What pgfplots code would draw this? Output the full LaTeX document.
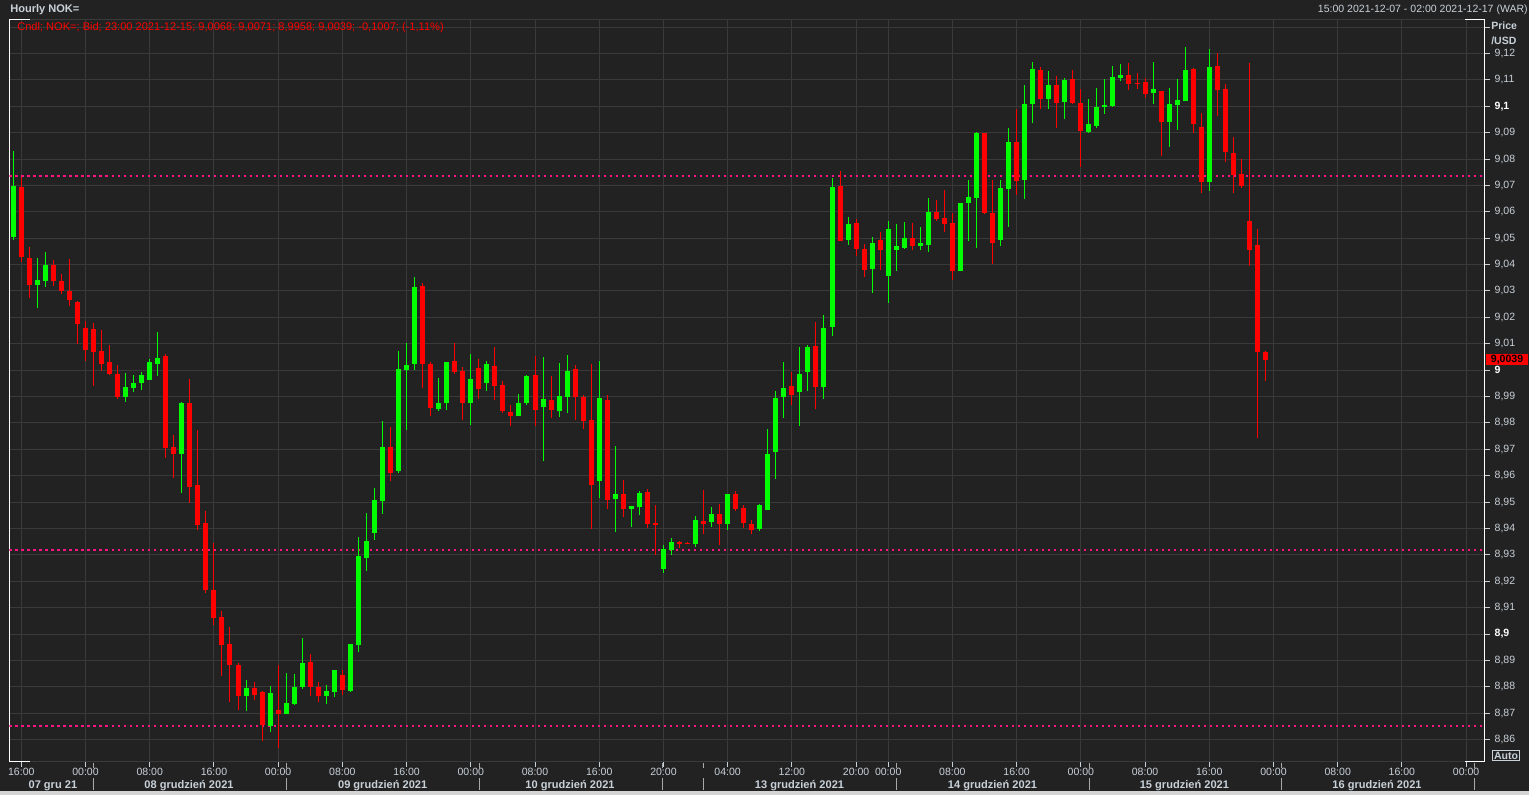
\documentclass[border=0pt]{standalone}
\usepackage{fontspec}
\setmainfont{Liberation Sans}
\usepackage{pgfplots}
\usepackage{pgfplotstable}
\pgfplotsset{compat=1.18}
\usetikzlibrary{backgrounds}

\definecolor{bg}{RGB}{34,34,34}
\definecolor{gridc}{RGB}{58,58,58}
\definecolor{up}{RGB}{0,255,0}
\definecolor{down}{RGB}{255,0,0}
\definecolor{lvl}{RGB}{255,20,130}
\definecolor{lbl}{RGB}{200,208,216}
\definecolor{sep}{RGB}{170,170,170}
\definecolor{strip}{RGB}{212,212,212}

\newcommand\tickfont{\fontsize{7.9}{9}\selectfont}
\newcommand\hdrfont{\fontsize{8.3}{10}\selectfont}

% hourly candles, i = hours since 15:00 2021-12-07 (trading hours only)
\pgfplotstableread{
i o h l c
0 9.0506 9.0832 9.0492 9.0699
3 9.0321 9.0426 9.0234 9.0343
4 9.0337 9.0449 9.0314 9.0400
14 8.9900 8.9991 8.9881 8.9938
15 8.9934 8.9983 8.9919 8.9953
16 8.9953 8.9994 8.9926 8.9983
17 8.9964 9.0044 8.9964 9.0029
18 9.0025 9.0146 8.9979 9.0047
21 8.9682 8.9878 8.9533 8.9875
29 8.8764 8.8825 8.8707 8.8794
32 8.8651 8.8802 8.8628 8.8776
34 8.8696 8.8851 8.8696 8.8738
35 8.8734 8.8847 8.8730 8.8798
36 8.8798 8.8984 8.8791 8.8889
39 8.8764 8.8806 8.8734 8.8783
40 8.8779 8.8863 8.8760 8.8863
42 8.8784 8.8964 8.8780 8.8964
43 8.8957 8.9366 8.8931 8.9294
44 8.9287 8.9460 8.9238 8.9351
45 8.9381 8.9554 8.9356 8.9506
46 8.9503 8.9809 8.9454 8.9707
48 8.9617 9.0074 8.9609 9.0006
49 9.0002 9.0101 8.9772 9.0021
50 9.0022 9.0354 9.0000 9.0316
53 8.9852 8.9972 8.9844 8.9877
54 8.9875 9.0032 8.9848 9.0032
57 8.9875 9.0063 8.9791 8.9968
59 8.9950 9.0036 8.9920 9.0025
63 8.9825 8.9911 8.9825 8.9877
64 8.9875 8.9983 8.9867 8.9979
66 8.9859 9.0048 8.9654 8.9889
68 8.9844 9.0026 8.9821 8.9901
69 8.9897 9.0056 8.9836 8.9995
73 8.9579 9.0033 8.9514 8.9893
75 8.9510 8.9711 8.9385 8.9529
77 8.9472 8.9484 8.9404 8.9484
78 8.9480 8.9541 8.9450 8.9533
81 8.9245 8.9336 8.9230 8.9321
82 8.9317 8.9363 8.9298 8.9347
85 8.9340 8.9446 8.9329 8.9431
87 8.9423 8.9480 8.9404 8.9454
89 8.9417 8.9531 8.9394 8.9531
93 8.9398 8.9493 8.9390 8.9489
94 8.9470 8.9777 8.9470 8.9682
95 8.9690 8.9921 8.9588 8.9894
96 8.9898 9.0031 8.9819 8.9932
98 8.9917 9.0088 8.9788 8.9985
99 8.9993 9.0095 8.9921 9.0088
101 8.9936 9.0209 8.9891 9.0160
102 9.0163 9.0728 9.0129 9.0694
104 9.0493 9.0580 9.0474 9.0554
107 9.0383 9.0504 9.0292 9.0482
109 9.0357 9.0565 9.0254 9.0535
110 9.0455 9.0554 9.0376 9.0470
111 9.0463 9.0561 9.0459 9.0500
113 9.0469 9.0544 9.0454 9.0480
114 9.0476 9.0651 9.0446 9.0601
118 9.0374 9.0632 9.0374 9.0632
119 9.0635 9.0719 9.0488 9.0658
120 9.0654 9.0904 9.0461 9.0897
123 9.0495 9.0722 9.0472 9.0692
124 9.0688 9.0919 9.0544 9.0863
126 9.0722 9.1082 9.0647 9.1010
127 9.1007 9.1166 9.0935 9.1143
129 9.1026 9.1132 9.0988 9.1079
131 9.1018 9.1109 9.0950 9.1101
134 9.0904 9.1026 9.0897 9.0931
135 9.0927 9.1071 9.0919 9.0999
136 9.0998 9.1103 9.0970 9.1004
137 9.1001 9.1152 9.0997 9.1110
138 9.1107 9.1160 9.1095 9.1118
142 9.1050 9.1167 9.1008 9.1065
144 9.0940 9.1069 9.0845 9.1008
145 9.1004 9.1103 9.0910 9.1023
146 9.1019 9.1224 9.1019 9.1137
149 9.0713 9.1216 9.0679 9.1148
}\upcandles

\pgfplotstableread{
i o h l c
1 9.0695 9.0731 9.0409 9.0428
2 9.0426 9.0468 9.0272 9.0321
5 9.0400 9.0419 9.0320 9.0337
6 9.0339 9.0364 9.0289 9.0299
7 9.0301 9.0422 9.0242 9.0265
8 9.0260 9.0263 9.0098 9.0174
9 9.0161 9.0188 9.0034 9.0075
10 9.0157 9.0180 8.9941 9.0068
11 9.0074 9.0152 8.9996 9.0025
12 9.0029 9.0097 8.9983 8.9987
13 8.9987 9.0021 8.9892 8.9900
19 9.0052 9.0062 8.9667 8.9705
20 8.9707 8.9753 8.9591 8.9682
22 8.9874 8.9965 8.9495 8.9557
23 8.9563 8.9772 8.9393 8.9412
24 8.9419 8.9465 8.9154 8.9166
25 8.9166 8.9344 8.9033 8.9061
26 8.9063 8.9086 8.8841 8.8957
27 8.8961 8.9026 8.8743 8.8882
28 8.8882 8.8889 8.8712 8.8764
30 8.8794 8.8817 8.8749 8.8768
31 8.8779 8.8783 8.8594 8.8654
33 8.8711 8.8882 8.8568 8.8696
37 8.8893 8.8923 8.8764 8.8798
38 8.8798 8.8817 8.8741 8.8764
41 8.8844 8.8863 8.8768 8.8787
47 8.9707 8.9786 8.9579 8.9609
51 9.0320 9.0332 8.9931 9.0025
52 9.0025 9.0032 8.9828 8.9856
55 9.0036 9.0104 8.9984 8.9992
56 8.9998 9.0013 8.9810 8.9875
58 9.0010 9.0044 8.9890 8.9928
60 9.0017 9.0089 8.9886 8.9939
61 8.9942 8.9960 8.9837 8.9844
62 8.9843 8.9869 8.9787 8.9825
65 8.9980 9.0052 8.9787 8.9849
67 8.9885 8.9976 8.9817 8.9849
70 9.0003 9.0018 8.9810 8.9897
71 8.9897 8.9904 8.9776 8.9806
72 8.9810 9.0022 8.9397 8.9563
74 8.9885 8.9904 8.9472 8.9507
76 8.9529 8.9582 8.9442 8.9472
79 8.9537 8.9548 8.9401 8.9416
80 8.9419 8.9488 8.9298 8.9412
83 8.9347 8.9351 8.9325 8.9340
84 8.9344 8.9348 8.9340 8.9340
86 8.9427 8.9544 8.9378 8.9416
88 8.9455 8.9493 8.9336 8.9417
90 8.9531 8.9542 8.9466 8.9474
91 8.9478 8.9489 8.9402 8.9421
92 8.9417 8.9432 8.9379 8.9394
97 8.9940 8.9993 8.9868 8.9906
100 9.0091 9.0182 8.9853 8.9936
103 9.0697 9.0754 9.0489 9.0489
105 9.0557 9.0572 9.0432 9.0459
106 9.0459 9.0478 9.0353 9.0379
108 9.0493 9.0523 9.0379 9.0455
112 9.0499 9.0556 9.0454 9.0469
115 9.0601 9.0643 9.0567 9.0571
116 9.0575 9.0681 9.0522 9.0552
117 9.0556 9.0594 9.0340 9.0374
121 9.0897 9.0900 9.0590 9.0597
122 9.0597 9.0722 9.0404 9.0480
125 9.0863 9.0988 9.0662 9.0715
128 9.1139 9.1147 9.0991 9.1026
130 9.1082 9.1116 9.0919 9.1014
132 9.1105 9.1139 9.1010 9.1014
133 9.1014 9.1067 9.0768 9.0908
139 9.1118 9.1163 9.1061 9.1084
140 9.1088 9.1126 9.1065 9.1085
141 9.1091 9.1107 9.1031 9.1046
143 9.1057 9.1057 9.0811 9.0940
147 9.1141 9.1144 9.0898 9.0932
148 9.0921 9.0974 9.0671 9.0713
150 9.1152 9.1201 9.0963 9.1061
151 9.1065 9.1084 9.0788 9.0826
152 9.0822 9.0883 9.0671 9.0739
153 9.0743 9.0800 9.0690 9.0697
154 9.0565 9.1163 9.0394 9.0455
155 9.0474 9.0535 8.9743 9.0069
156 9.0068 9.0071 8.9958 9.0039
}\downcandles

\begin{document}
\begin{tikzpicture}[x=0.75pt,y=0.75pt]
\begin{axis}[
  name=main,
  scale only axis,
  width=1106.6pt, height=556.9pt,
  xmin=-0.47, xmax=183.35,
  ymin=8.8515, ymax=9.1329,
  separate axis lines,
  x axis line style={draw=gridc, line width=0.75pt},
  y axis line style={draw=white, line width=0.75pt},
  grid=major,
  major grid style={draw=gridc, line width=0.75pt},
  tick align=outside,
  major tick length=3.75pt,
  xtick pos=bottom, ytick pos=right,
  tick style={draw=lbl, line width=0.75pt},
  xtick={1,9,17,25,33,41,49,57,65,73,81,89,97,105,109,117,125,133,141,149,157,165,173,181},
  xticklabels={16:00,00:00,08:00,16:00,00:00,08:00,16:00,00:00,08:00,16:00,20:00,04:00,12:00,20:00,00:00,08:00,16:00,00:00,08:00,16:00,00:00,08:00,16:00,00:00},
  ytick={8.86,8.87,8.88,8.89,8.9,8.91,8.92,8.93,8.94,8.95,8.96,8.97,8.98,8.99,9,9.01,9.02,9.03,9.04,9.05,9.06,9.07,9.08,9.09,9.1,9.11,9.12,9.13},
  yticklabels={{8,86},{8,87},{8,88},{8,89},{\textbf{\color{white}8,9}},{8,91},{8,92},{8,93},{8,94},{8,95},{8,96},{8,97},{8,98},{8,99},{\textbf{\color{white}9}},{9,01},{9,02},{9,03},{9,04},{9,05},{9,06},{9,07},{9,08},{9,09},{\textbf{\color{white}9,1}},{9,11},{9,12},{}},
  xticklabel style={font=\tickfont, text=lbl, yshift=3pt},
  yticklabel style={font=\tickfont, text=lbl, anchor=west},
]

% support / resistance levels
\addplot[lvl, line width=1.9pt, dash pattern=on 2.2pt off 2.3pt]
  coordinates {(-0.47,9.0736) (183.35,9.0736)};
\addplot[lvl, line width=1.9pt, dash pattern=on 2.2pt off 2.3pt]
  coordinates {(-0.47,8.9318) (183.35,8.9318)};
\addplot[lvl, line width=1.9pt, dash pattern=on 2.2pt off 2.3pt]
  coordinates {(-0.47,8.8651) (183.35,8.8651)};

% wicks
\addplot[draw=none, mark=none, forget plot,
  error bars/.cd, y dir=plus, y explicit, error mark=none,
  error bar style={draw=up, line width=0.75pt}]
  table[x=i, y=l, y error plus expr=\thisrow{h}-\thisrow{l}] {\upcandles};
\addplot[draw=none, mark=none, forget plot,
  error bars/.cd, y dir=plus, y explicit, error mark=none,
  error bar style={draw=down, line width=0.75pt}]
  table[x=i, y=l, y error plus expr=\thisrow{h}-\thisrow{l}] {\downcandles};

% bodies
\addplot[draw=none, mark=none, forget plot,
  error bars/.cd, y dir=plus, y explicit, error mark=none,
  error bar style={draw=up, line width=3.75pt}]
  table[x=i, y=o, y error plus expr={max(\thisrow{c}-\thisrow{o},0.0004)}] {\upcandles};
\addplot[draw=none, mark=none, forget plot,
  error bars/.cd, y dir=plus, y explicit, error mark=none,
  error bar style={draw=down, line width=3.75pt}]
  table[x=i, y=c, y error plus expr={max(\thisrow{o}-\thisrow{c},0.0004)}] {\downcandles};
\end{axis}

% everything else in screen pixels; the plot box's lower left corner is at (9.5,33)
\begin{scope}[shift={(main.south west)}, shift={(-9.5,-33)}]
\begin{scope}[on background layer]
\fill[bg] (0,0) rectangle (1529,795);
\fill[strip] (0,0) rectangle (1529,3.5);
\end{scope}

% white frame corners
\draw[white, line width=0.75pt] (9.5,33) -- (30,33) (1465,33) -- (1485,33)
  (9.5,775.5) -- (30,775.5) (1465,775.5) -- (1485,775.5);

% header
\node[anchor=west, font=\hdrfont\bfseries, text=lbl, inner sep=0] at (10,785) {Hourly NOK=};
\node[anchor=east, font=\tickfont, text=lbl, inner sep=0] at (1528,785) {15:00 2021-12-07 - 02:00 2021-12-17 (WAR)};
\node[anchor=west, font=\hdrfont, text=down, inner sep=0] at (17,767) {Cndl; NOK=; Bid; 23:00 2021-12-15; 9,0068; 9,0071; 8,9958; 9,0039; -0,1007; (-1,11\%)};
\node[anchor=west, font=\tickfont\bfseries, text=lbl, inner sep=0] at (1491,769) {Price};
\node[anchor=west, font=\tickfont\bfseries, text=lbl, inner sep=0] at (1491,754) {/USD};

% last price tag
\node[fill=down, text=black, font=\tickfont\bfseries, inner sep=0,
  minimum width=31.5pt, minimum height=8.3pt] at (1507,435.5) {9,0039};

% Auto button
\node[draw=lbl, line width=0.75pt, text=lbl, font=\tickfont\bfseries, inner sep=0.8pt,
  minimum width=20pt] at (1506,39.5) {Auto};

% day separators below the time axis
\foreach \sx in {93.5,286,479,662.6,703,896,1089.5,1281.3,1474.5}{
  \draw[sep, line width=0.75pt] (\sx,27) -- (\sx,32) (\sx,5) -- (\sx,17);
}
\foreach \dx/\dl in {52.9/07 gru 21, 189/08 grudzień 2021, 382.7/09 grudzień 2021,
  570/10 grudzień 2021, 799.5/13 grudzień 2021, 992.5/14 grudzień 2021,
  1184.4/15 grudzień 2021, 1377/16 grudzień 2021}{
  \node[font=\hdrfont\bfseries, text=lbl, inner sep=0] at (\dx,9.5) {\dl};
}
\end{scope}
\end{tikzpicture}
\end{document}
